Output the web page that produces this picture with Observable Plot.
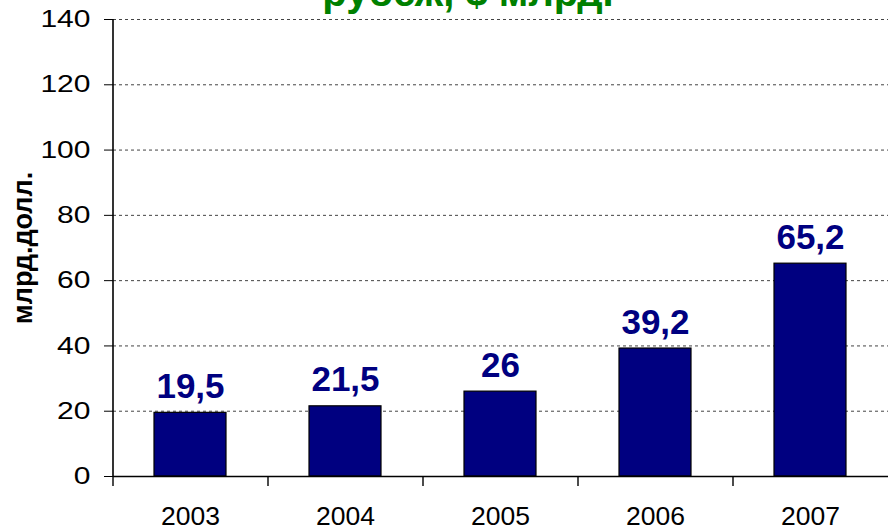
<!DOCTYPE html>
<html>
<head>
<meta charset="utf-8">
<script src="https://cdn.jsdelivr.net/npm/d3@7"></script>
<script src="https://cdn.jsdelivr.net/npm/@observablehq/plot@0.6"></script>
<style>
  html, body { margin: 0; padding: 0; background: #fff; overflow: hidden; }
  #wrap { position: relative; width: 888px; height: 531px; }
  #title { position: absolute; left: 0; width: 936px; top: -28px; text-align: center;
    font-family: "Liberation Sans", Arial, sans-serif; font-weight: bold; font-size: 40px;
    color: #008000; line-height: 1; white-space: nowrap; }
</style>
</head>
<body>
<div id="wrap">
  <div id="chart"></div>
  <div id="title">рубеж, $ млрд.</div>
</div>
<script>
const years = ["2003", "2004", "2005", "2006", "2007"];
const values = [19.5, 21.5, 26, 39.2, 65.2];
const yTicks = [0, 20, 40, 60, 80, 100, 120, 140];
const gridTicks = [20, 40, 60, 80, 100, 120, 140];
const yLabel = "млрд.долл.";

const data = years.map((y, i) => ({year: y, value: values[i], label: String(values[i]).replace(".", ",")}));

const W = 888, H = 531, mL = 113, mR = 0, mT = 19, mB = 55;
const bandW = (W - mL - mR) / years.length;
const frameH = H - mT - mB;

const chart = Plot.plot({
  width: W, height: H,
  marginLeft: mL, marginRight: mR, marginTop: mT, marginBottom: mB,
  style: {fontFamily: "'Liberation Sans', Arial, sans-serif", background: "#fff", color: "#000"},
  x: {domain: years, paddingInner: 0.535, paddingOuter: 0.2675, align: 0.5, axis: null},
  y: {domain: [0, 140], axis: null},
  marks: [
    Plot.ruleY(gridTicks, {stroke: "#444", strokeWidth: 1, strokeDasharray: "3,3"}),
    Plot.barY(data, {x: "year", y: "value", fill: "#000080", stroke: "#000", strokeWidth: 1.2}),
    Plot.ruleY([0], {stroke: "#000", strokeWidth: 1.6}),
    Plot.ruleX([years[0]], {x: d => d, dx: -bandW / 2, stroke: "#000", strokeWidth: 1.6}),
    Plot.axisY({ticks: yTicks, tickSize: 9, tickPadding: 14, fontSize: 24, label: null, tickFormat: d => d}),
    Plot.ruleX(years, {x: d => d, dx: -bandW / 2, insetTop: frameH, insetBottom: -10, stroke: "#000", strokeWidth: 1.4}),
    Plot.axisX({tickSize: 0, tickPadding: 31, fontSize: 25, label: null}),
    Plot.text(data, {x: "year", y: "value", text: "label", dy: -15, lineAnchor: "bottom",
      fill: "#000080", fontWeight: "bold", fontSize: 35}),
    Plot.text([yLabel], {text: d => d, frameAnchor: "left", textAnchor: "middle", lineAnchor: "middle",
      dx: -90, rotate: -90, fontWeight: "bold", fontSize: 27, fill: "#000"})
  ]
});
document.getElementById("chart").appendChild(chart);

// Stretch tick labels horizontally (wide digits in the reference) with textLength
function stretch(selector, k) {
  d3.select(chart).selectAll(selector).each(function() {
    const len = this.getComputedTextLength();
    if (len > 0) {
      this.setAttribute("textLength", (len * k).toFixed(1));
      this.setAttribute("lengthAdjust", "spacingAndGlyphs");
    }
  });
}
stretch('g[aria-label="y-axis tick label"] text', 1.25);
stretch('g[aria-label="x-axis tick label"] text', 1.06);
</script>
</body>
</html>
